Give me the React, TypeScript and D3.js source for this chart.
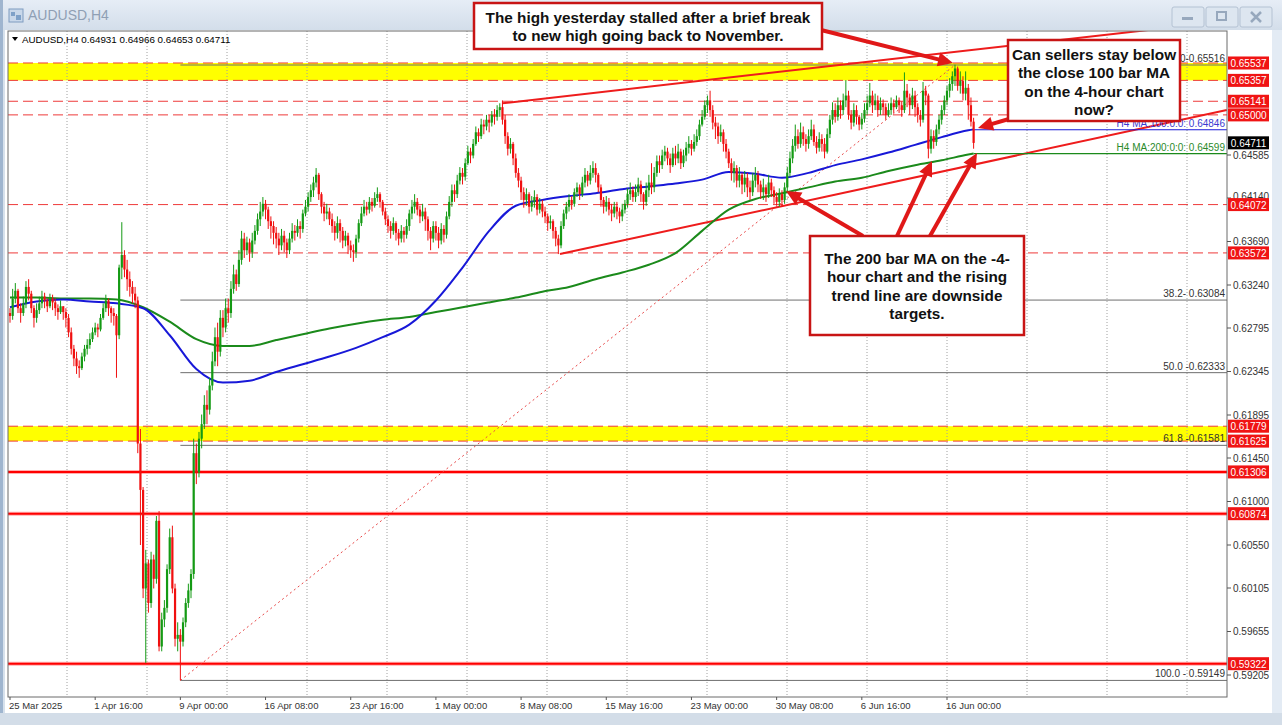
import React from 'react';
import * as d3 from 'd3';

// ---------------- DATA (prices in 1/10000) ----------------
const FIRST_OPEN = 6295;
const closes = [
  6292, 6310, 6318, 6300, 6295, 6305, 6322, 6315, 6300, 6290,
  6298, 6305, 6312, 6308, 6302, 6310, 6306, 6300, 6296, 6302,
  6296, 6290, 6275, 6258, 6248, 6240, 6238, 6250, 6258, 6262,
  6268, 6275, 6280, 6278, 6290, 6300, 6308, 6300, 6295, 6292,
  6272, 6342, 6355, 6340, 6330, 6322, 6315, 6308, 6160, 6112,
  6010, 6036, 5995, 6040, 6020, 6080, 5950, 5978, 5990, 6030,
  6063, 6010, 5958, 5962, 5955, 5975, 5995, 6008, 6025, 6150,
  6130, 6165, 6180, 6200, 6195, 6220, 6245, 6270, 6255, 6290,
  6280, 6300, 6295, 6320, 6335, 6325, 6350, 6372, 6360, 6368,
  6358, 6370, 6380, 6392, 6400, 6408, 6402, 6390, 6385, 6378,
  6372, 6365, 6375, 6368, 6360, 6372, 6380, 6378, 6385, 6382,
  6398, 6405, 6415, 6422, 6430, 6438, 6418, 6405, 6398, 6400,
  6392, 6385, 6378, 6388, 6380, 6370, 6375, 6365, 6360, 6358,
  6372, 6388, 6398, 6405, 6402, 6410, 6406, 6414, 6418, 6410,
  6400, 6392, 6385, 6380, 6388, 6378, 6372, 6380, 6376, 6385,
  6398, 6405, 6410, 6402, 6395, 6400, 6392, 6380, 6372, 6385,
  6378, 6370, 6382, 6376, 6395, 6410, 6422, 6418, 6432, 6440,
  6436, 6450, 6462, 6458, 6470, 6482, 6478, 6490, 6488, 6495,
  6492, 6500, 6498, 6505, 6508, 6495, 6478, 6465, 6470, 6455,
  6440, 6432, 6420, 6412, 6418, 6405, 6410, 6415, 6402, 6408,
  6400, 6395, 6388, 6390, 6380, 6372, 6365, 6385, 6398, 6405,
  6412, 6408, 6420, 6425, 6418, 6430, 6438, 6432, 6440, 6445,
  6438, 6425, 6412, 6405, 6410, 6402, 6398, 6405, 6400, 6395,
  6402, 6408, 6418, 6422, 6415, 6420, 6428, 6418, 6410, 6422,
  6430, 6425, 6440, 6452, 6448, 6458, 6462, 6455, 6448, 6460,
  6455, 6462, 6450, 6458, 6466, 6470, 6465, 6472, 6478, 6490,
  6498, 6510, 6515, 6505, 6492, 6488, 6478, 6482, 6470, 6462,
  6450, 6440, 6445, 6432, 6438, 6428, 6435, 6425, 6420, 6432,
  6438, 6428, 6420, 6425, 6418, 6430, 6422, 6415, 6410, 6418,
  6412, 6425, 6440, 6455, 6468, 6478, 6470, 6482, 6475, 6470,
  6478, 6485, 6472, 6466, 6475, 6470, 6462, 6480, 6495, 6505,
  6498, 6510, 6505, 6515, 6520, 6500, 6492, 6505, 6498, 6490,
  6496, 6505, 6512, 6520, 6510, 6515, 6505, 6512, 6508, 6500,
  6505, 6512, 6508, 6515, 6510, 6505, 6525, 6518, 6510, 6520,
  6508, 6500, 6495, 6525, 6520, 6465, 6478, 6472, 6485, 6495,
  6505, 6515, 6525, 6532, 6540, 6548, 6530, 6535, 6522, 6528,
  6510, 6493, 6471,
];
const highs = [
  6300, 6320, 6326, 6320, 6305, 6312, 6328, 6330, 6318, 6303,
  6305, 6312, 6318, 6316, 6310, 6315, 6314, 6310, 6304, 6308,
  6302, 6300, 6294, 6280, 6262, 6255, 6246, 6254, 6262, 6268,
  6274, 6280, 6285, 6284, 6294, 6305, 6314, 6310, 6302, 6300,
  6294, 6345, 6389, 6360, 6350, 6338, 6328, 6322, 6312, 6175,
  6115, 6050, 6040, 6048, 6045, 6085, 6090, 5985, 5998, 6035,
  6072, 6075, 6015, 5975, 5968, 5980, 6000, 6015, 6030, 6165,
  6160, 6172, 6190, 6210, 6215, 6228, 6255, 6280, 6285, 6298,
  6298, 6310, 6310, 6328, 6345, 6340, 6360, 6380, 6378, 6374,
  6372, 6378, 6386, 6398, 6410, 6415, 6412, 6405, 6395, 6390,
  6384, 6378, 6382, 6380, 6372, 6378, 6388, 6386, 6392, 6390,
  6402, 6412, 6420, 6428, 6436, 6445, 6440, 6420, 6410, 6408,
  6404, 6398, 6390, 6395, 6392, 6384, 6380, 6378, 6370, 6366,
  6376, 6392, 6405, 6412, 6410, 6415, 6414, 6420, 6425, 6420,
  6412, 6404, 6396, 6390, 6394, 6390, 6382, 6386, 6384, 6392,
  6402, 6412, 6418, 6414, 6406, 6408, 6404, 6395, 6384, 6390,
  6390, 6384, 6388, 6386, 6400, 6416, 6428, 6428, 6438, 6446,
  6445, 6455, 6468, 6466, 6475, 6488, 6486, 6496, 6495, 6500,
  6500, 6504, 6506, 6510, 6512, 6515, 6500, 6482, 6476, 6472,
  6460, 6445, 6436, 6425, 6424, 6420, 6416, 6422, 6418, 6414,
  6412, 6405, 6398, 6396, 6392, 6384, 6376, 6390, 6402, 6410,
  6418, 6416, 6424, 6430, 6428, 6436, 6445, 6442, 6448, 6452,
  6450, 6440, 6428, 6415, 6416, 6414, 6408, 6410, 6410, 6404,
  6408, 6412, 6424, 6430, 6426, 6428, 6435, 6432, 6420, 6430,
  6438, 6450, 6446, 6458, 6458, 6464, 6468, 6466, 6460, 6466,
  6468, 6470, 6465, 6464, 6472, 6478, 6474, 6480, 6485, 6495,
  6505, 6515, 6520, 6525, 6510, 6498, 6492, 6490, 6485, 6475,
  6465, 6455, 6452, 6448, 6446, 6440, 6442, 6440, 6432, 6440,
  6446, 6442, 6432, 6434, 6428, 6438, 6434, 6426, 6420, 6424,
  6422, 6430, 6446, 6462, 6475, 6490, 6485, 6492, 6488, 6480,
  6485, 6495, 6490, 6478, 6482, 6480, 6476, 6486, 6500, 6513,
  6512, 6518, 6515, 6522, 6536, 6525, 6505, 6512, 6510, 6500,
  6502, 6512, 6520, 6533, 6525, 6522, 6520, 6518, 6516, 6512,
  6512, 6518, 6516, 6520, 6518, 6514, 6544, 6532, 6522, 6528,
  6525, 6512, 6505, 6534, 6530, 6522, 6485, 6484, 6490, 6500,
  6510, 6520, 6530, 6538, 6545, 6552, 6550, 6545, 6540, 6545,
  6532, 6518, 6497,
];
const lows = [
  6285, 6288, 6305, 6295, 6285, 6292, 6300, 6308, 6295, 6280,
  6285, 6294, 6300, 6300, 6296, 6300, 6298, 6292, 6288, 6294,
  6288, 6280, 6270, 6252, 6240, 6232, 6228, 6236, 6245, 6252,
  6258, 6265, 6272, 6270, 6276, 6288, 6296, 6292, 6285, 6282,
  6228, 6268, 6330, 6332, 6318, 6312, 6305, 6300, 6150, 6055,
  6000, 5933, 5985, 5990, 6010, 6015, 5945, 5945, 5970, 5985,
  6025, 6005, 5950, 5945, 5915, 5950, 5970, 5990, 6000, 6020,
  6118, 6125, 6155, 6175, 6180, 6190, 6215, 6240, 6240, 6250,
  6270, 6275, 6285, 6290, 6315, 6318, 6322, 6345, 6352, 6355,
  6348, 6352, 6366, 6376, 6385, 6395, 6392, 6382, 6372, 6366,
  6362, 6355, 6360, 6358, 6352, 6356, 6368, 6370, 6374, 6372,
  6378, 6395, 6400, 6410, 6415, 6425, 6412, 6398, 6390, 6392,
  6386, 6378, 6370, 6372, 6368, 6362, 6364, 6356, 6352, 6348,
  6352, 6368, 6385, 6395, 6396, 6398, 6400, 6404, 6410, 6404,
  6396, 6386, 6378, 6372, 6376, 6370, 6365, 6368, 6368, 6372,
  6380, 6392, 6398, 6396, 6388, 6390, 6380, 6370, 6360, 6368,
  6370, 6362, 6366, 6368, 6372, 6392, 6405, 6410, 6414, 6428,
  6428, 6432, 6448, 6450, 6455, 6468, 6472, 6475, 6480, 6484,
  6482, 6488, 6490, 6494, 6498, 6490, 6470, 6458, 6460, 6448,
  6435, 6425, 6412, 6404, 6406, 6398, 6400, 6404, 6396, 6398,
  6394, 6388, 6380, 6382, 6372, 6364, 6356, 6362, 6382, 6392,
  6400, 6402, 6405, 6415, 6412, 6415, 6425, 6426, 6428, 6435,
  6430, 6420, 6405, 6398, 6400, 6396, 6390, 6394, 6392, 6388,
  6390, 6398, 6404, 6412, 6410, 6410, 6416, 6410, 6402, 6406,
  6415, 6418, 6420, 6436, 6440, 6444, 6452, 6448, 6440, 6446,
  6448, 6450, 6444, 6446, 6452, 6460, 6458, 6462, 6468, 6474,
  6488, 6495, 6502, 6498, 6485, 6475, 6470, 6472, 6462, 6455,
  6445, 6432, 6430, 6425, 6425, 6418, 6420, 6415, 6412, 6416,
  6425, 6420, 6413, 6412, 6410, 6414, 6415, 6408, 6406, 6405,
  6405, 6408, 6420, 6436, 6450, 6462, 6465, 6466, 6468, 6462,
  6465, 6474, 6468, 6460, 6462, 6462, 6455, 6460, 6476, 6490,
  6492, 6494, 6496, 6500, 6508, 6495, 6485, 6488, 6490, 6484,
  6485, 6492, 6500, 6508, 6502, 6505, 6498, 6500, 6500, 6495,
  6498, 6500, 6502, 6506, 6502, 6498, 6502, 6508, 6500, 6506,
  6498, 6492, 6488, 6492, 6510, 6455, 6460, 6465, 6468, 6480,
  6490, 6500, 6510, 6518, 6525, 6530, 6525, 6522, 6515, 6515,
  6495, 6488, 6465,
];

const maIdx = [0, 10, 20, 30, 40, 50, 60, 70, 80, 90, 100, 110, 120, 130, 140, 150, 160, 170, 180, 190,
  200, 210, 220, 230, 240, 250, 260, 270, 280, 290, 300, 310, 320, 330, 340, 350, 360, 362];
const ma100 = [6301, 6307, 6309, 6307, 6305, 6300, 6272, 6237, 6223, 6225, 6234, 6242, 6250, 6259, 6270, 6283, 6308, 6342, 6380, 6406,
  6412, 6416, 6419, 6423, 6426, 6429, 6433, 6441, 6439, 6435, 6440, 6448, 6454, 6461, 6469, 6477, 6484, 6485];
const ma200 = [6311, 6311, 6310, 6310, 6309, 6301, 6286, 6268, 6261, 6261, 6267, 6273, 6279, 6284, 6288, 6291, 6296, 6301, 6306, 6311,
  6317, 6322, 6330, 6337, 6345, 6357, 6380, 6402, 6413, 6419, 6425, 6431, 6435, 6442, 6448, 6453, 6459, 6460];
const ma100Label = 'H4 MA:100:0:0: 0.64846';
const ma200Label = 'H4 MA:200:0:0: 0.64599';
const ma100Last = 0.64846;
const ma200Last = 0.64599;

const timeLabels = ['25 Mar 2025', '1 Apr 16:00', '9 Apr 00:00', '16 Apr 08:00', '23 Apr 16:00', '1 May 00:00',
  '8 May 08:00', '15 May 16:00', '23 May 00:00', '30 May 08:00', '6 Jun 16:00', '16 Jun 00:00'];
const timeLabelIdx = [0, 32, 64, 96, 128, 160, 192, 224, 256, 288, 320, 352];

const priceTicks = [0.64585, 0.6414, 0.6369, 0.6324, 0.62795, 0.62345, 0.61895, 0.6145,
  0.61, 0.6055, 0.60105, 0.59655, 0.59205];
const dashedLevels = [0.65537, 0.65357, 0.65141, 0.65, 0.64072, 0.63572, 0.61779, 0.61625];
const solidLevels = [0.61306, 0.60874, 0.59322];
const yellowBands = [[0.65357, 0.65537], [0.61625, 0.61779]];
const redLabels = [0.65537, 0.65357, 0.65141, 0.65, 0.64072, 0.63572, 0.61779, 0.61625, 0.61306, 0.60874, 0.59322];
const currentPrice = 0.64711;
const fibNames = ['0.0-0.65516', '38.2- 0.63084', '50.0 -0.62333', '61.8 -0.61581', '100.0 - 0.59149'];
const fibValues = [0.65516, 0.63084, 0.62333, 0.61581, 0.59149];
const fibStartIdx = 64;
const fibEndIdx = 355;
const upperChannel = [[185, 0.6512], [457, 0.6597]];
const lowerChannel = [[206.6, 0.6356], [457.1, 0.6505]];
const headerText = 'AUDUSD,H4  0.64931 0.64966 0.64653 0.64711';

const note1 = ['The high yesterday stalled after a brief break', 'to new high going back to November.'];
const note2 = ['Can sellers stay below', 'the close 100 bar MA', 'on the 4-hour chart', 'now?'];
const note3 = ['The 200 bar MA on the -4-', 'hour chart and the rising', 'trend line are downside', 'targets.'];

// ---------------- LAYOUT ----------------
const W = 1282, H = 725;
const PL = 8, PT = 31, PR = 1227, PB = 697;
const x = d3.scaleLinear().domain([0, 352]).range([10, 947]);
const y = d3.scaleLinear().domain([0.59205, 0.64585]).range([675, 155]);

const FONT = '"Liberation Sans", Arial, sans-serif';
const GREEN = '#149a14';
const RED = '#f01010';

function Arrow({ x1, y1, x2, y2 }: { x1: number; y1: number; x2: number; y2: number }) {
  const dx = x2 - x1, dy = y2 - y1;
  const len = Math.hypot(dx, dy);
  const ux = dx / len, uy = dy / len;
  const hl = 15, hw = 7;
  const bx = x2 - ux * hl, by = y2 - uy * hl;
  const px = -uy, py = ux;
  return (
    <g>
      <line x1={x1} y1={y1} x2={bx + ux * 2} y2={by + uy * 2} stroke="#e01818" strokeWidth={4} />
      <polygon points={`${x2},${y2} ${bx + px * hw},${by + py * hw} ${bx - px * hw},${by - py * hw}`} fill="#e01818" />
    </g>
  );
}

function NoteBox({ x0, y0, w, h, lines, cy0, dy, size }: any) {
  return (
    <g>
      <rect x={x0} y={y0} width={w} height={h} fill="#fff" stroke="#c81414" strokeWidth={2.5} />
      {lines.map((t: string, k: number) => (
        <text key={k} x={x0 + w / 2} y={cy0 + k * dy} textAnchor="middle" dominantBaseline="central"
          fontFamily={FONT} fontWeight="bold" fontSize={size} fill="#111">{t}</text>
      ))}
    </g>
  );
}

export default function App() {
  const bars = closes.map((c, i) => {
    const o = i === 0 ? FIRST_OPEN : closes[i - 1];
    const hi = Math.max(highs[i], o, c);
    const lo = Math.min(lows[i], o, c);
    return { i, o: o / 1e4, c: c / 1e4, h: hi / 1e4, l: lo / 1e4 };
  });
  const lineGen = d3.line<[number, number]>().x(d => x(d[0])).y(d => y(d[1])).curve(d3.curveMonotoneX);
  const ma100Pts = maIdx.map((k, j) => [k, ma100[j] / 1e4] as [number, number]);
  const ma200Pts = maIdx.map((k, j) => [k, ma200[j] / 1e4] as [number, number]);
  const gridXs = d3.range(67, PR, 80);
  const lastX = x(closes.length - 1);

  return (
    <svg width={W} height={H} style={{ position: 'fixed', left: 0, top: 0 }}>
      <defs>
        <linearGradient id="tb" x1="0" y1="0" x2="0" y2="1">
          <stop offset="0" stopColor="#e6edf6" />
          <stop offset="1" stopColor="#d3deea" />
        </linearGradient>
        <clipPath id="plot"><rect x={PL} y={PT} width={PR - PL} height={PB - PT} /></clipPath>
      </defs>
      {/* window frame */}
      <rect x={0} y={0} width={W} height={H} fill="#d7e1ec" />
      <rect x={0} y={0} width={W} height={30} fill="url(#tb)" />
      <rect x={0} y={0} width={3} height={H} fill="#9fb5cf" />
      <g>
        <rect x={9} y={9} width={14} height={13} fill="#c9d8ea" stroke="#7f9cc0" />
        <rect x={11} y={12} width={4} height={4} fill="#7fa1c8" />
        <rect x={16} y={15} width={5} height={5} fill="#7fa1c8" />
      </g>
      <text x={28} y={20} fontFamily={FONT} fontSize={14} fill="#8f9fb4">AUDUSD,H4</text>
      {[1172, 1206, 1240].map((bx, k) => (
        <g key={k}>
          <rect x={bx} y={7} width={32} height={20} rx={2} fill="#dde6f0" stroke="#b4c2d3" />
          {k === 0 && <rect x={bx + 10} y={17} width={11} height={3} fill="#97a8bd" />}
          {k === 1 && <rect x={bx + 11} y={12} width={9} height={8} fill="none" stroke="#97a8bd" strokeWidth={2} />}
          {k === 2 && <path d={`M${bx + 11},${12} L${bx + 21},${22} M${bx + 21},${12} L${bx + 11},${22}`} stroke="#97a8bd" strokeWidth={2.5} />}
        </g>
      ))}
      {/* chart panel */}
      <rect x={5} y={30} width={1267} height={683} fill="#ffffff" />
      <rect x={1272} y={30} width={10} height={683} fill="#e3ebf4" />
      <rect x={0} y={713} width={W} height={12} fill="#d3dde8" />

      <g clipPath="url(#plot)">
        {yellowBands.map((b, k) => (
          <rect key={k} x={PL} y={y(b[1])} width={PR - PL} height={y(b[0]) - y(b[1])} fill="#ffff00" />
        ))}
        {gridXs.map((gx, k) => (
          <line key={k} x1={gx} x2={gx} y1={PT} y2={PB} stroke="#a0a0a0" strokeDasharray="1,2" />
        ))}
        {fibValues.map((v, k) => (
          <line key={k} x1={x(fibStartIdx)} x2={PR} y1={y(v)} y2={y(v)} stroke="#6e6e6e" strokeWidth={1} />
        ))}
        {dashedLevels.map((v, k) => (
          <line key={k} x1={PL} x2={PR} y1={y(v)} y2={y(v)} stroke="#ee3a3a" strokeWidth={1} strokeDasharray="10,5" />
        ))}
        {solidLevels.map((v, k) => (
          <g key={k}>
            <line x1={PL} x2={PR} y1={y(v)} y2={y(v)} stroke="#ffb0b0" strokeWidth={4} />
            <line x1={PL} x2={PR} y1={y(v)} y2={y(v)} stroke="#ff0000" strokeWidth={2} />
          </g>
        ))}
        <line x1={x(fibStartIdx)} y1={y(fibValues[4])} x2={x(fibEndIdx)} y2={y(fibValues[0])}
          stroke="#e84848" strokeWidth={1} strokeDasharray="2,3" />
        <line x1={x(upperChannel[0][0])} y1={y(upperChannel[0][1])} x2={x(upperChannel[1][0])} y2={y(upperChannel[1][1])}
          stroke="#ee1c1c" strokeWidth={2} />
        <line x1={x(lowerChannel[0][0])} y1={y(lowerChannel[0][1])} x2={x(lowerChannel[1][0])} y2={y(lowerChannel[1][1])}
          stroke="#ee1c1c" strokeWidth={2} />
        <path d={lineGen(ma200Pts) || ''} fill="none" stroke="#1b8a1b" strokeWidth={2} />
        <path d={lineGen(ma100Pts) || ''} fill="none" stroke="#1818d8" strokeWidth={2} />
        <line x1={lastX} x2={PR} y1={y(ma100Last)} y2={y(ma100Last)} stroke="#1818d8" strokeWidth={1.2} />
        <line x1={lastX} x2={PR} y1={y(ma200Last)} y2={y(ma200Last)} stroke="#1b8a1b" strokeWidth={1.2} />
        {bars.map(b => {
          const cx = x(b.i);
          const col = b.c >= b.o ? GREEN : RED;
          const top = y(Math.max(b.o, b.c));
          const bh = Math.max(1, y(Math.min(b.o, b.c)) - top);
          return (
            <g key={b.i}>
              <line x1={cx} x2={cx} y1={y(b.h)} y2={y(b.l)} stroke={col} strokeWidth={1} />
              <rect x={cx - 1.1} y={top} width={2.2} height={bh} fill={col} />
            </g>
          );
        })}
      </g>

      {/* fib & MA labels */}
      {fibValues.map((v, k) => (
        <text key={k} x={PR - 2} y={y(v) - 3} textAnchor="end" fontFamily={FONT} fontSize={10} fill="#333">{fibNames[k]}</text>
      ))}
      <text x={PR - 2} y={y(ma100Last) - 3} textAnchor="end" fontFamily={FONT} fontSize={10} fill="#3a3ad0">{ma100Label}</text>
      <text x={PR - 2} y={y(ma200Last) - 3} textAnchor="end" fontFamily={FONT} fontSize={10} fill="#2a8a2a">{ma200Label}</text>

      {/* plot frame */}
      <rect x={PL} y={PT} width={PR - PL} height={PB - PT} fill="none" stroke="#6a6a6a" strokeWidth={1} />

      {/* right axis */}
      {priceTicks.map((v, k) => (
        <g key={k}>
          <line x1={PR} x2={PR + 4} y1={y(v)} y2={y(v)} stroke="#555" />
          <text x={PR + 6} y={y(v) - (v === 0.6414 ? 2 : 0)} dominantBaseline="central" fontFamily={FONT} fontSize={10} fill="#333">{v.toFixed(5)}</text>
        </g>
      ))}
      {redLabels.map((v, k) => (
        <g key={k}>
          <rect x={PR + 1} y={y(v) - 6.5} width={41} height={13} fill="#f01414" />
          <text x={PR + 21.5} y={y(v) + 0.5} textAnchor="middle" dominantBaseline="central" fontFamily={FONT} fontSize={10} fill="#fff">{v.toFixed(5)}</text>
        </g>
      ))}
      <rect x={PR + 1} y={y(currentPrice) - 6.5} width={41} height={13} fill="#000" />
      <text x={PR + 21.5} y={y(currentPrice) + 0.5} textAnchor="middle" dominantBaseline="central" fontFamily={FONT} fontSize={10} fill="#fff">{currentPrice.toFixed(5)}</text>

      {/* time axis */}
      {timeLabelIdx.map((k, j) => (
        <g key={j}>
          <line x1={x(k)} x2={x(k)} y1={PB} y2={PB + 3} stroke="#555" />
          <text x={x(k) - 1} y={PB + 12} fontFamily={FONT} fontSize={9.5} fill="#333">{timeLabels[j]}</text>
        </g>
      ))}

      {/* header */}
      <path d="M12,37 L18,37 L15,41 Z" fill="#000" />
      <text x={22} y={43} fontFamily={FONT} fontSize={9.8} fill="#000">{headerText}</text>

      {/* annotations */}
      <Arrow x1={821} y1={30} x2={953} y2={63} />
      <Arrow x1={1009} y1={119} x2={978} y2={128} />
      <Arrow x1={863} y1={236} x2={786} y2={191} />
      <Arrow x1={897} y1={236} x2={932} y2={161} />
      <Arrow x1={930} y1={236} x2={977} y2={153} />
      <NoteBox x0={474} y0={3} w={348} h={46} lines={note1} cy0={17} dy={18.5} size={15.3} />
      <NoteBox x0={1008} y0={40} w={172} h={81} lines={note2} cy0={54} dy={18.5} size={15.3} />
      <NoteBox x0={810} y0={236} w={214} h={99} lines={note3} cy0={258} dy={18.5} size={15.3} />
    </svg>
  );
}
